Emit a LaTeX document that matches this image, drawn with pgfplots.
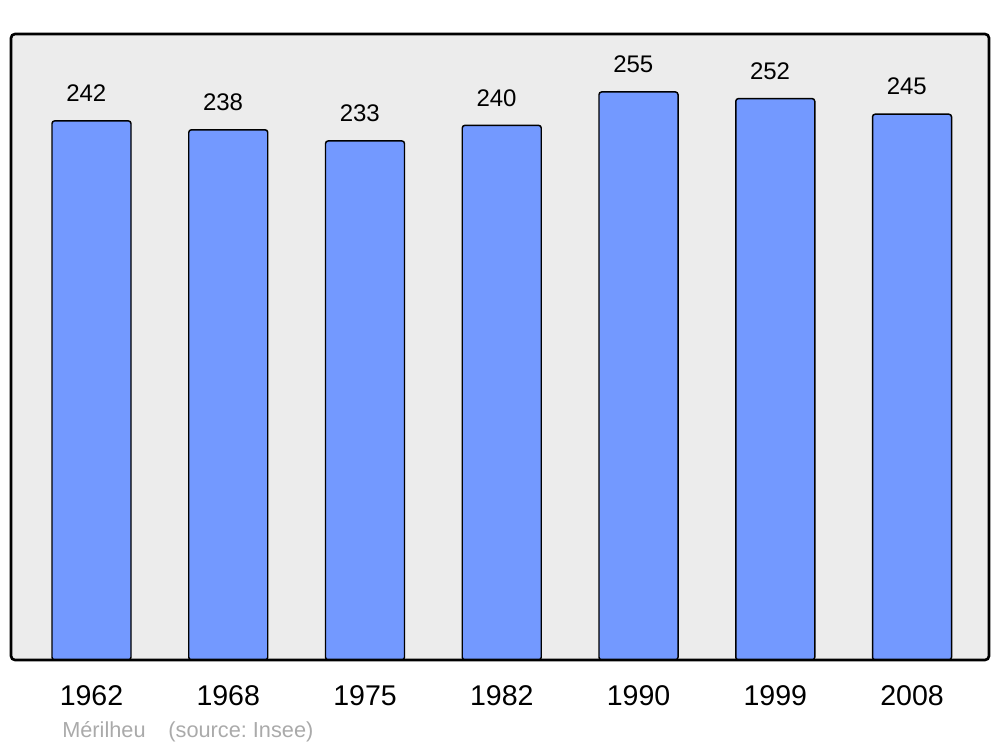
\documentclass[border=0pt]{standalone}
\usepackage{fontspec}
\setmainfont{Liberation Sans}
\usepackage{pgfplots}
\pgfplotsset{compat=1.18}
\definecolor{barblue}{RGB}{115,153,255}
\definecolor{bggray}{RGB}{236,236,236}
\definecolor{srcgray}{RGB}{170,170,170}
\begin{document}
\begin{tikzpicture}
\begin{axis}[
  name=ax,
  scale only axis,
  width=733.5pt, height=469.5pt,
  xmin=-0.5887, xmax=6.563,
  ymin=0, ymax=281,
  axis line style={draw=none},
  axis background/.style={fill=bggray},
  major tick length=0pt,
  ytick=\empty,
  xtick={0,1,2,3,4,5,6},
  xticklabels={1962,1968,1975,1982,1990,1999,2008},
  xticklabel style={anchor=center, yshift=-26.5pt, font=\fontsize{21.4}{24}\selectfont},
  /pgf/number format/assume math mode=true,
  ybar, bar width=59.25pt,
  nodes near coords,
  every node near coord/.append style={anchor=center, yshift=20.6pt, xshift=-3.9pt, font=\fontsize{18}{20}\selectfont, black},
  clip=false,
]
\addplot[fill=barblue, draw=black, line width=1.1pt, rounded corners=2pt] coordinates {
  (0,242) (1,238) (2,233) (3,240) (4,255) (5,252) (6,245)
};
\draw[black, line width=2pt, rounded corners=3pt] (rel axis cs:0,0) rectangle (rel axis cs:1,1);
\node[anchor=west, text=srcgray, font=\fontsize{16.3}{18}\selectfont, inner sep=0pt]
  at ([xshift=38.25pt, yshift=-54pt]rel axis cs:0,0) {Mérilheu\hspace{1.05em}(source:\ Insee)};
\end{axis}
\pgfresetboundingbox
\path[use as bounding box] ([xshift=-8.25pt,yshift=-65.25pt]ax.south west) rectangle ([xshift=8.25pt,yshift=25.5pt]ax.north east);
\end{tikzpicture}
\end{document}
